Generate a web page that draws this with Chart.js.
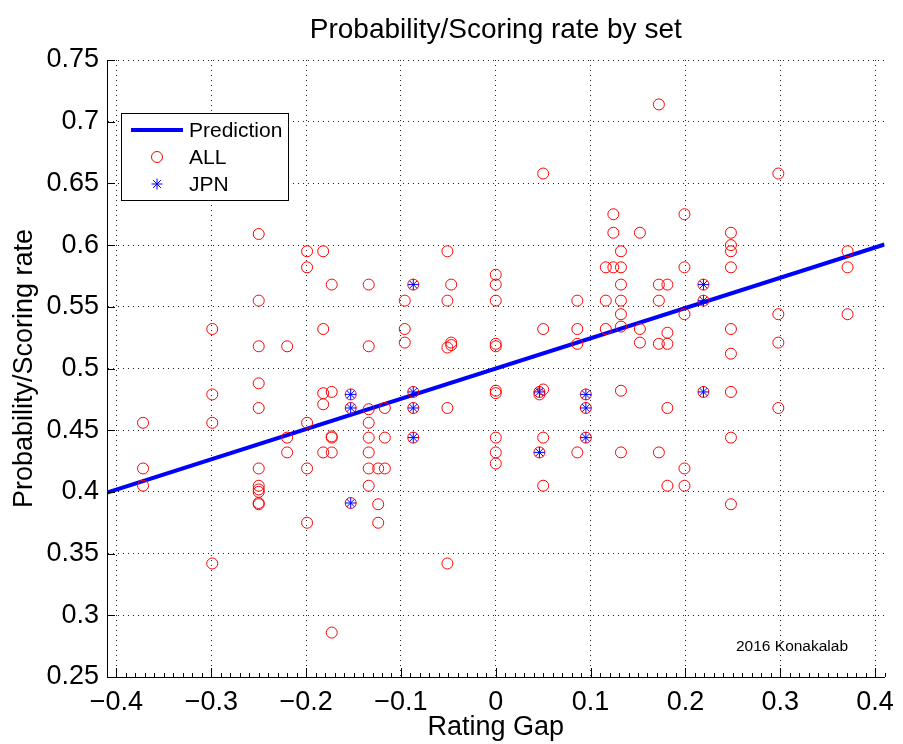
<!DOCTYPE html>
<html>
<head>
<meta charset="utf-8">
<script src="https://cdn.jsdelivr.net/npm/chart.js@4"></script>
<style>
  body { margin: 0; background: #fff; }
  canvas { display: block; }
</style>
</head>
<body>
<canvas id="gapChart" width="903" height="744"></canvas>
<script>
// rating gap columns and the scoring rates read in each column
const allGaps = [-0.372, -0.299, -0.250, -0.220, -0.199, -0.182, -0.173, -0.153, -0.134, -0.124, -0.117, -0.096, -0.087, -0.051, -0.047,
  0.000, 0.046, 0.050, 0.086, 0.095, 0.116, 0.124, 0.132, 0.152, 0.172, 0.181, 0.199, 0.219, 0.248, 0.298, 0.371];
const allRates = [
  [0.456, 0.419, 0.405],
  [0.532, 0.479, 0.456, 0.342],
  [0.609, 0.555, 0.518, 0.488, 0.468, 0.419, 0.405, 0.402, 0.400, 0.391, 0.390],
  [0.518, 0.444, 0.432],
  [0.595, 0.582, 0.456, 0.419, 0.375],
  [0.595, 0.532, 0.480, 0.471, 0.432],
  [0.568, 0.481, 0.445, 0.444, 0.432, 0.286],
  [0.479, 0.468, 0.391],
  [0.568, 0.518, 0.467, 0.456, 0.444, 0.432, 0.419, 0.405],
  [0.419, 0.390, 0.375],
  [0.468, 0.444, 0.419],
  [0.555, 0.532, 0.521],
  [0.568, 0.481, 0.468, 0.444],
  [0.595, 0.555, 0.517, 0.468, 0.342],
  [0.568, 0.521, 0.519],
  [0.576, 0.568, 0.555, 0.520, 0.518, 0.482, 0.480, 0.444, 0.432, 0.423],
  [0.481, 0.479, 0.432],
  [0.658, 0.532, 0.483, 0.444, 0.405],
  [0.555, 0.532, 0.520, 0.432],
  [0.479, 0.468, 0.444],
  [0.582, 0.555, 0.532],
  [0.625, 0.610, 0.582],
  [0.595, 0.582, 0.568, 0.555, 0.544, 0.534, 0.482, 0.432],
  [0.610, 0.532, 0.521],
  [0.714, 0.568, 0.555, 0.520, 0.432],
  [0.568, 0.529, 0.520, 0.468, 0.405],
  [0.625, 0.582, 0.544, 0.419, 0.405],
  [0.568, 0.555, 0.481],
  [0.610, 0.600, 0.595, 0.582, 0.532, 0.512, 0.481, 0.444, 0.390],
  [0.658, 0.544, 0.521, 0.468],
  [0.595, 0.582, 0.544]
];
const jpnGaps = [-0.153, -0.087, 0.046, 0.095, 0.219];
const jpnRates = [
  [0.479, 0.468, 0.391],
  [0.568, 0.481, 0.468, 0.444],
  [0.481, 0.432],
  [0.479, 0.468, 0.444],
  [0.568, 0.555, 0.481]
];
const predGap = [-0.41, 0.41];
const predRate = [0.3995, 0.6005];
const xTicks = [-0.4, -0.3, -0.2, -0.1, 0, 0.1, 0.2, 0.3, 0.4];
const yTicks = [0.25, 0.3, 0.35, 0.4, 0.45, 0.5, 0.55, 0.6, 0.65, 0.7, 0.75];

const FONT = "'Liberation Sans', Arial, Helvetica, sans-serif";
const TITLE = 'Probability/Scoring rate by set';

function toPoints(gaps, rates) {
  const pts = [];
  gaps.forEach((g, i) => rates[i].forEach(r => pts.push({x: g, y: r})));
  return pts;
}

const fmt = v => String(Number(v.toFixed(2))).replace('-', '\u2212');

// inward tick marks on the left and bottom axes
const tickMarks = {
  id: 'tickMarks',
  afterDatasetsDraw(chart) {
    const {ctx, chartArea: a, scales: {x, y}} = chart;
    ctx.save();
    ctx.strokeStyle = '#000';
    ctx.lineWidth = 1;
    ctx.beginPath();
    for (let i = -40; i <= 41; i++) {
      const v = i / 100;
      if (v < x.min || v > x.max) continue;
      const px = Math.round(x.getPixelForValue(v)) + 0.5;
      const len = (i % 10 === 0) ? 9 : 4;
      ctx.moveTo(px, a.bottom);
      ctx.lineTo(px, a.bottom - len);
    }
    yTicks.forEach(v => {
      const py = Math.round(y.getPixelForValue(v)) + 0.5;
      ctx.moveTo(a.left, py);
      ctx.lineTo(a.left + 8, py);
    });
    ctx.stroke();
    ctx.restore();
  }
};

// title over the plot, legend box inside the plot and the credit text
const boxLegend = {
  id: 'boxLegend',
  afterDraw(chart) {
    const {ctx, chartArea: a} = chart;
    const ds = chart.data.datasets;
    ctx.save();
    ctx.font = '28px ' + FONT;
    ctx.fillStyle = '#000';
    ctx.textAlign = 'center';
    ctx.textBaseline = 'middle';
    ctx.fillText(TITLE, (a.left + a.right) / 2, 30);
    ctx.textAlign = 'left';

    const bx = a.left + 14, by = a.top + 53, bw = 167, bh = 87;
    ctx.fillStyle = '#fff';
    ctx.fillRect(bx, by, bw, bh);
    ctx.strokeStyle = '#000';
    ctx.lineWidth = 1;
    ctx.strokeRect(bx + 0.5, by + 0.5, bw, bh);
    ctx.font = '21px ' + FONT;
    const rows = [by + 17, by + 44, by + 71];
    // line entry
    ctx.strokeStyle = ds[0].borderColor;
    ctx.lineWidth = ds[0].borderWidth;
    ctx.beginPath();
    ctx.moveTo(bx + 10, rows[0]);
    ctx.lineTo(bx + 62, rows[0]);
    ctx.stroke();
    ctx.fillStyle = '#000';
    ctx.fillText(ds[0].label, bx + 68, rows[0] + 1);
    // marker entries
    [1, 2].forEach(k => {
      ctx.strokeStyle = ds[k].borderColor;
      ctx.fillStyle = ds[k].backgroundColor;
      ctx.lineWidth = ds[k].borderWidth;
      Chart.helpers.drawPoint(ctx, {
        pointStyle: ds[k].pointStyle, radius: ds[k].pointRadius, borderWidth: ds[k].borderWidth
      }, bx + 36, rows[k]);
      ctx.fillStyle = '#000';
      ctx.fillText(ds[k].label, bx + 68, rows[k] + 1);
    });
    ctx.font = '15.5px ' + FONT;
    ctx.fillStyle = '#000';
    ctx.fillText('2016 Konakalab', a.left + 629, a.bottom - 30);
    ctx.restore();
  }
};

new Chart(document.getElementById('gapChart'), {
  type: 'scatter',
  data: {
    datasets: [{
      type: 'line',
      label: 'Prediction',
      data: predGap.map((g, i) => ({x: g, y: predRate[i]})),
      borderColor: '#0000ff',
      borderWidth: 4,
      pointRadius: 0,
      fill: false,
      order: 3
    }, {
      label: 'ALL',
      data: toPoints(allGaps, allRates),
      pointStyle: 'circle',
      pointRadius: 5.5,
      borderWidth: 1,
      borderColor: '#ff0000',
      backgroundColor: 'rgba(0,0,0,0)',
      order: 2
    }, {
      label: 'JPN',
      data: toPoints(jpnGaps, jpnRates),
      pointStyle: 'star',
      pointRadius: 5.5,
      borderWidth: 1,
      borderColor: '#0000ff',
      backgroundColor: '#0000ff',
      order: 1
    }]
  },
  options: {
    responsive: false,
    animation: false,
    devicePixelRatio: 1,
    layout: { padding: { left: 0, right: 14, top: 60, bottom: 0 } },
    plugins: {
      legend: { display: false },
      tooltip: { enabled: false },
      title: { display: false }
    },
    scales: {
      x: {
        type: 'linear',
        min: -0.41,
        max: 0.41,
        afterBuildTicks: s => { s.ticks = xTicks.map(v => ({value: v})); },
        afterFit: s => { s.height = 67; },
        ticks: {
          color: '#000',
          font: { family: FONT, size: 27 },
          padding: 9,
          maxRotation: 0,
          callback: v => fmt(v)
        },
        grid: { color: '#222', lineWidth: 1, drawTicks: false },
        border: { display: true, color: '#000', width: 1, dash: [1, 4] },
        title: {
          display: true,
          text: 'Rating Gap',
          color: '#000',
          font: { family: FONT, size: 27 },
          padding: { top: 0, bottom: 0 }
        }
      },
      y: {
        min: 0.25,
        max: 0.75,
        afterBuildTicks: s => { s.ticks = yTicks.map(v => ({value: v})); },
        afterFit: s => { s.width = 107; },
        ticks: {
          color: '#000',
          font: { family: FONT, size: 27 },
          padding: 8,
          callback: v => fmt(v)
        },
        grid: { color: '#222', lineWidth: 1, drawTicks: false },
        border: { display: true, color: '#000', width: 1, dash: [1, 4] },
        title: {
          display: true,
          text: 'Probability/Scoring rate',
          color: '#000',
          font: { family: FONT, size: 27 },
          padding: { top: 8, bottom: 0 }
        }
      }
    }
  },
  plugins: [tickMarks, boxLegend]
});
</script>
</body>
</html>
